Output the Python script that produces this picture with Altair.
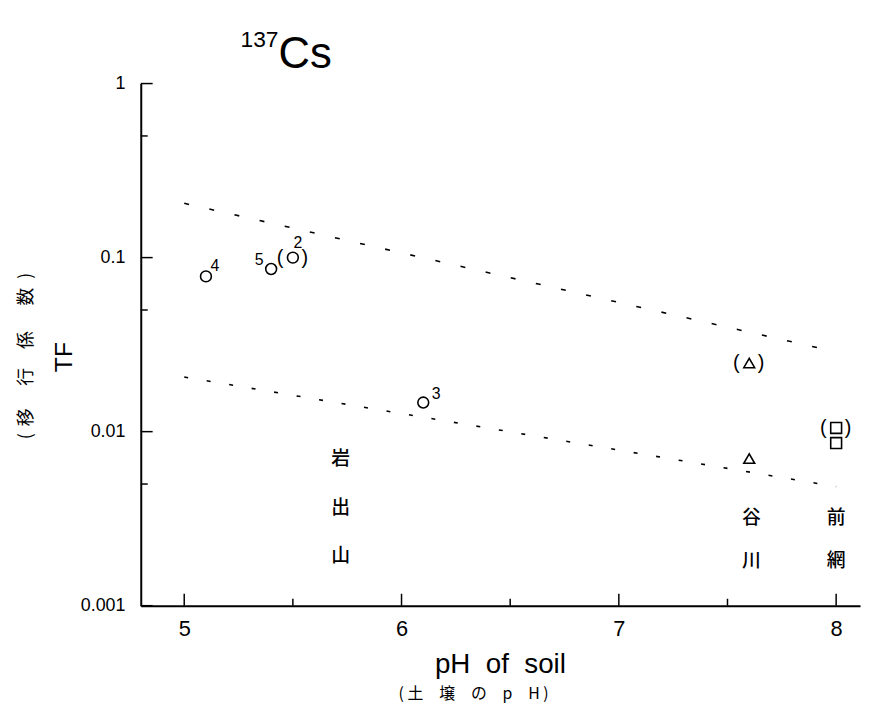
import altair as alt
import pandas as pd

# ---------------- data ----------------
pt_ph = [5.1, 5.4, 5.5, 6.1, 7.6, 7.6, 8.0, 8.0]
pt_tf = [0.078, 0.086, 0.100, 0.0147, 0.0248, 0.0070, 0.0105, 0.0086]
pt_shape = ["circle", "circle", "circle", "circle", "triangle-up", "triangle-up", "square", "square"]
pt_label = ["4", "5", "2", "3", "", "", "", ""]
pt_paren = [False, False, True, False, True, False, True, False]

fit_ph = [5.0, 8.0]
upper_tf = [0.205, 0.0287]
lower_tf = [0.0206, 0.00483]

site_char = ["岩", "出", "山", "谷", "川", "前", "網"]
site_ph = [5.72, 5.72, 5.72, 7.61, 7.61, 8.0, 8.0]
site_tf = [0.00697, 0.00362, 0.00193, 0.00317, 0.00181, 0.00317, 0.00181]

x_ticks_major = [5, 6, 7, 8]
x_ticks_minor = [5.5, 6.5, 7.5]
y_ticks_major = [1, 0.1, 0.01, 0.001]
y_ticks_minor = [0.5, 0.05, 0.005]

ytitle_jp_chars = ["(", "移", "行", "係", "数", ")"]

W, H = 726, 527
FONT = "Liberation Sans"
JP = "Noto Sans CJK JP"
NB = "\u00a0"
IS = "\u3000"

pts = pd.DataFrame({"ph": pt_ph, "tf": pt_tf, "shape": pt_shape,
                    "label": pt_label, "paren": pt_paren})
lines = pd.DataFrame({
    "ph": fit_ph + fit_ph,
    "tf": upper_tf + lower_tf,
    "grp": ["upper"] * 2 + ["lower"] * 2,
})
sites = pd.DataFrame({"ph": site_ph, "tf": site_tf, "ch": site_char})

xs = alt.Scale(domain=[4.8, 8.11], nice=False, zero=False)
ys = alt.Scale(type="log", domain=[0.001, 1], nice=False)

X = alt.X("ph:Q", scale=xs,
          axis=alt.Axis(values=x_ticks_major, format="d", title=None, ticks=False,
                        labelFontSize=22, labelPadding=13, labelFont=FONT,
                        labelColor="black"))
Y = alt.Y("tf:Q", scale=ys,
          axis=alt.Axis(values=y_ticks_major, format="~g", title=None,
                        ticks=False, labelFontSize=18, labelPadding=16,
                        labelFont=FONT, labelColor="black"))

upper = alt.Chart(lines).transform_filter("datum.grp == 'upper'").mark_line(
    color="black", strokeWidth=1.6, strokeDash=[5, 21]
).encode(x=X, y=Y)
lower = alt.Chart(lines).transform_filter("datum.grp == 'lower'").mark_line(
    color="black", strokeWidth=1.6, strokeDash=[4, 19]
).encode(x="ph:Q", y="tf:Q")

points = alt.Chart(pts).mark_point(
    filled=False, color="black", strokeWidth=1.6, size=120, opacity=1
).encode(x="ph:Q", y="tf:Q", shape=alt.Shape("shape:N", scale=None))

label_offsets = {"4": (9, -10), "5": (-12, -9), "2": (5, -15), "3": (13, -9)}
label_layers = []
for lbl, (dx, dy) in label_offsets.items():
    label_layers.append(
        alt.Chart(pts).transform_filter(f"datum.label == '{lbl}'").mark_text(
            font=FONT, fontSize=16, color="black", dx=dx, dy=dy
        ).encode(x="ph:Q", y="tf:Q", text="label:N")
    )

paren_l = alt.Chart(pts).transform_filter("datum.paren").mark_text(
    text="(", font=FONT, fontSize=20, color="black", dx=-13, dy=0
).encode(x="ph:Q", y="tf:Q")
paren_r = alt.Chart(pts).transform_filter("datum.paren").mark_text(
    text=")", font=FONT, fontSize=20, color="black", dx=12, dy=0
).encode(x="ph:Q", y="tf:Q")

site_text = alt.Chart(sites).mark_text(
    font=JP, fontSize=19, color="black", fontWeight=500
).encode(x="ph:Q", y="tf:Q", text="ch:N")

xt = pd.DataFrame({"ph": x_ticks_major})
xtm = pd.DataFrame({"ph": x_ticks_minor})
yt = pd.DataFrame({"tf": y_ticks_major})
ytm = pd.DataFrame({"tf": y_ticks_minor})

xtick_major = alt.Chart(xt).mark_rule(color="black", strokeWidth=1.5).encode(
    x="ph:Q", y=alt.value(H), y2=alt.value(H - 12))
xtick_minor = alt.Chart(xtm).mark_rule(color="black", strokeWidth=1.5).encode(
    x="ph:Q", y=alt.value(H), y2=alt.value(H - 7))
ytick_major = alt.Chart(yt).mark_rule(color="black", strokeWidth=1.5).encode(
    y="tf:Q", x=alt.value(0), x2=alt.value(12))
ytick_minor = alt.Chart(ytm).mark_rule(color="black", strokeWidth=1.5).encode(
    y="tf:Q", x=alt.value(0), x2=alt.value(7))

one = pd.DataFrame({"a": [0]})


def label(txt, x, y, size, font=FONT, align="center", baseline="middle", angle=0):
    kw = dict(text=txt, font=font, fontSize=size, color="black",
              align=align, baseline=baseline)
    if angle:
        kw["angle"] = angle
    return alt.Chart(one).mark_text(**kw).encode(x=alt.value(x), y=alt.value(y))


title_cs = label("Cs", 139, -16, 44, align="left", baseline="alphabetic")
title_iso = label("137", 139, -37, 23, align="right", baseline="alphabetic")

# vertical Japanese axis title, one glyph at a time (reads bottom to top)
jp_y = [356, 337, 296, 259, 215, 194]
ytitle_jp = [label(c, -115, yy, 18, font=JP, angle=270)
             for c, yy in zip(ytitle_jp_chars, jp_y)]
ytitle_tf = label("TF", -77, 276, 25, angle=270)
xtitle = label(f"pH{NB}{NB}of{NB}{NB}soil", 363, 587, 28)
xtitle_jp = label(f"( 土{IS}壌{IS}の{IS}p{IS}H )", 336, 616, 16, font=JP)

chart = alt.layer(
    upper, lower, points, *label_layers, paren_l, paren_r, site_text,
    xtick_major, xtick_minor, ytick_major, ytick_minor,
    title_cs, title_iso, *ytitle_jp, ytitle_tf, xtitle, xtitle_jp,
).properties(
    width=W, height=H,
    padding={"left": 134, "top": 73, "right": 5, "bottom": 100},
    autosize=alt.AutoSizeParams(type="none"),
).configure_view(stroke=None).configure_axis(
    grid=False, domainColor="black", domainWidth=2
)

chart.save("out.html", embed_options={"renderer": "svg", "actions": False})
